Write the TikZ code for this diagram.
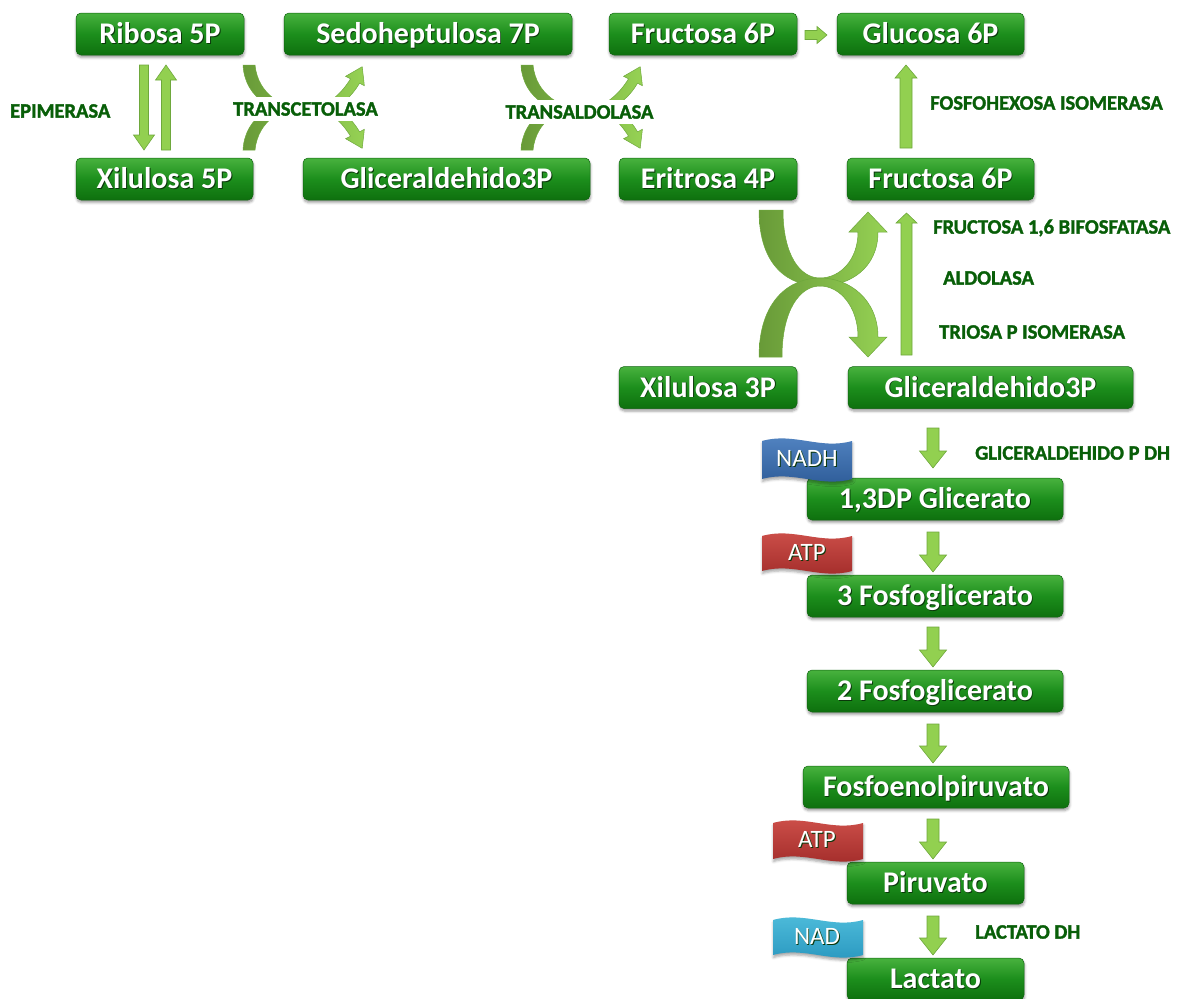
\documentclass[tikz,border=0pt]{standalone}
\usepackage{fontspec}
\newfontfamily\carl{Carlito}
\newfontfamily\enzfam{Carlito}[BoldFeatures={FakeBold=1.6}]
\usetikzlibrary{calc,shadows.blur}

\definecolor{boxtop}{RGB}{72,178,62}
\definecolor{boxmid}{RGB}{28,142,28}
\definecolor{boxbot}{RGB}{14,112,14}
\definecolor{boxedge}{RGB}{16,100,16}
\definecolor{txtshadow}{RGB}{10,55,10}
\definecolor{enz}{RGB}{8,94,8}
\definecolor{arrfill}{RGB}{146,208,80}
\definecolor{arredge}{RGB}{110,168,60}
\definecolor{curvedark}{RGB}{104,154,56}
\definecolor{curvelight}{RGB}{150,210,84}
\definecolor{bluetop}{RGB}{84,134,196}
\definecolor{bluebot}{RGB}{44,90,150}
\definecolor{redtop}{RGB}{208,82,76}
\definecolor{redbot}{RGB}{160,42,40}
\definecolor{cyantop}{RGB}{80,190,220}
\definecolor{cyanbot}{RGB}{40,150,190}

\newcommand{\boxfont}{\carl\bfseries\fontsize{30}{32}\selectfont}
\newcommand{\enzfont}{\enzfam\bfseries\fontsize{20.5}{22}\selectfont}
\newcommand{\badgefont}{\carl\fontsize{25}{27}\selectfont}
% white label text with a dark drop shadow
\newcommand{\sh}[1]{\rlap{\kern0.9pt\raisebox{-0.9pt}{\textcolor{txtshadow}{#1}}}#1}

\tikzset{
  box/.style={rectangle, rounded corners=5pt, minimum height=42pt, inner sep=0pt,
    text height=19pt, text depth=0pt,
    top color=boxtop, bottom color=boxbot, middle color=boxmid,
    draw=boxedge, line width=0.5pt, text=white, font=\boxfont,
    blur shadow={shadow xshift=0.5pt, shadow yshift=-2.5pt, shadow blur radius=2.5pt, shadow opacity=40}},
  enzyme/.style={font=\enzfont, text=enz, inner sep=0pt},
  enzymebg/.style={enzyme, fill=white, inner xsep=1pt, inner ysep=5pt},
  badgetxt/.style={font=\badgefont, text=white, inner sep=0pt},
  blockarr/.style={fill=arrfill, draw=arredge, line width=0.6pt, line join=miter},
  curvearr/.style={left color=curvedark, right color=curvelight, draw=arredge, line width=0.5pt},
  badgeshadow/.style={blur shadow={shadow xshift=0.5pt, shadow yshift=-2.5pt, shadow blur radius=2.5pt, shadow opacity=35}}
}

% straight block arrow from #2 to #3: shaft half width #4, head half width #5, head length #6
\newcommand{\blockarrow}[6][]{%
  \path ($(#3)!#6!(#2)$) coordinate (bah);
  \draw[blockarr,#1] ($(#2)!#4!90:(#3)$) -- ($(bah)!#4!90:(#3)$) -- ($(bah)!#5!90:(#3)$)
    -- (#3) -- ($(bah)!#5!-90:(#3)$) -- ($(bah)!#4!-90:(#3)$) -- ($(#2)!#4!-90:(#3)$) -- cycle;}

% wavy flag: #1 x, #2 y, #3 width, #4 height, #5 top colour, #6 bottom colour
\newcommand{\wavebadge}[6]{%
  \path[top color=#5, bottom color=#6, badgeshadow]
    (#1,{#2+3}) .. controls ({#1+0.35*#3},{#2-6}) and ({#1+0.65*#3},{#2+12}) .. ({#1+#3},{#2+3})
    -- ({#1+#3},{#2+#4-3}) .. controls ({#1+0.65*#3},{#2+#4+6}) and ({#1+0.35*#3},{#2+#4-12}) .. (#1,{#2+#4-3})
    -- cycle;}

% crossing pair of curved arrows (U-shaped and arch-shaped)
\newcommand{\smallcross}{%
  \path[curvearr] (243,65) .. controls (245,100) and (276,114) .. (306,114)
    .. controls (332,114) and (350,100) .. (359.5,83.2) -- (364.4,85.7) -- (362.2,66.7)
    -- (345.6,76.3) -- (350.5,78.8) .. controls (342,93) and (326,109) .. (306,109)
    .. controls (284,109) and (258,95) .. (255,65) -- cycle;
  \path[curvearr] (243,150) .. controls (245,115) and (276,101) .. (306,101)
    .. controls (332,101) and (350,115) .. (359.5,131.8) -- (364.4,129.3) -- (362.2,148.3)
    -- (345.6,138.7) -- (350.5,136.2) .. controls (342,122) and (326,106) .. (306,106)
    .. controls (284,106) and (258,120) .. (255,150) -- cycle;}

\begin{document}
\begin{tikzpicture}[x=1pt,y=-1pt]
\useasboundingbox (0,0) rectangle (1184,999);

% ---------- pentose phosphate side ----------
\node[box, minimum width=168pt] (rib)  at (160,34)    {\sh{Ribosa 5P}};
\node[box, minimum width=288pt] (sed)  at (428,34)    {\sh{Sedoheptulosa 7P}};
\node[box, minimum width=188pt] (fru1) at (703,34)    {\sh{Fructosa 6P}};
\node[box, minimum width=187pt] (glu)  at (930.5,34)  {\sh{Glucosa 6P}};
\node[box, minimum width=177pt] (xil5) at (164.5,179) {\sh{Xilulosa 5P}};
\node[box, minimum width=287pt] (gap1) at (446.5,179) {\sh{Gliceraldehido3P}};
\node[box, minimum width=178pt] (eri)  at (708,179)   {\sh{Eritrosa 4P}};
\node[box, minimum width=187pt] (fru2) at (940.5,179) {\sh{Fructosa 6P}};
\node[box, minimum width=178pt] (xil3) at (708,387.5)  {\sh{Xilulosa 3P}};
\node[box, minimum width=285pt] (gap2) at (990.5,387.5) {\sh{Gliceraldehido3P}};

% ---------- glycolysis column ----------
\node[box, minimum width=256pt] (dpg) at (935,499)   {\sh{1,3DP Glicerato}};
\node[box, minimum width=256pt] (pg3) at (935,596)   {\sh{3 Fosfoglicerato}};
\node[box, minimum width=256pt] (pg2) at (935,691)   {\sh{2 Fosfoglicerato}};
\node[box, minimum width=266pt] (pep) at (936,787)   {\sh{Fosfoenolpiruvato}};
\node[box, minimum width=177pt] (pir) at (935.5,883) {\sh{Piruvato}};
\node[box, minimum width=177pt] (lac) at (935.5,979) {\sh{Lactato}};

% ---------- epimerase pair ----------
\coordinate (ep1a) at (144,65);  \coordinate (ep1b) at (144,150);
\coordinate (ep2a) at (166,150); \coordinate (ep2b) at (166,65);
\blockarrow{ep1a}{ep1b}{4.5pt}{10.5pt}{15pt}
\blockarrow{ep2a}{ep2b}{4.5pt}{10.5pt}{15pt}
\node[enzyme, anchor=west] (epi) at (10,111) {EPIMERASA};

% ---------- transketolase / transaldolase ----------
\smallcross
\node[enzymebg] (tcet) at (305.5,109) {TRANSCETOLASA};
\begin{scope}[xshift=278pt]
  \smallcross
\end{scope}
\node[enzymebg] (tald) at (579.5,112) {TRANSALDOLASA};

% ---------- fructose 6P -> glucose 6P ----------
\coordinate (fg1) at (805,35); \coordinate (fg2) at (827,35);
\blockarrow{fg1}{fg2}{4.5pt}{8.5pt}{10pt}
\coordinate (iso1) at (906,148); \coordinate (iso2) at (906,65);
\blockarrow{iso1}{iso2}{6pt}{11pt}{13pt}
\node[enzyme, anchor=west] (fhi) at (930,103) {FOSFOHEXOSA ISOMERASA};

% ---------- large crossing arrows ----------
\path[curvearr] (759,210) .. controls (759,268) and (790,286) .. (820,286)
  .. controls (850,286) and (878,268) .. (878,232) -- (887,232) -- (868,212)
  -- (849,232) -- (858,232) .. controls (858,260) and (840,278) .. (820,278)
  .. controls (800,278) and (783,255) .. (783,210) -- cycle;
\path[curvearr] (759,357) .. controls (759,300) and (790,278) .. (820,278)
  .. controls (850,278) and (878,300) .. (878,337) -- (887,337) -- (868,357)
  -- (849,337) -- (858,337) .. controls (858,307) and (840,286) .. (820,286)
  .. controls (800,286) and (782,310) .. (782,357) -- cycle;

\coordinate (gf1) at (906.5,355); \coordinate (gf2) at (906.5,213);
\blockarrow{gf1}{gf2}{5.5pt}{10.5pt}{10pt}
\node[enzyme, anchor=west] (fbp) at (933,228) {FRUCTOSA 1,6 BIFOSFATASA};
\node[enzyme, anchor=west] (ald) at (943,278) {ALDOLASA};
\node[enzyme, anchor=west] (tpi) at (939,332) {TRIOSA P ISOMERASA};

% ---------- glycolysis steps ----------
\coordinate (s1a) at (933,428); \coordinate (s1b) at (933,468);
\coordinate (s2a) at (933,532); \coordinate (s2b) at (933,572);
\coordinate (s3a) at (933,627); \coordinate (s3b) at (933,667);
\coordinate (s4a) at (933,724); \coordinate (s4b) at (933,763);
\coordinate (s5a) at (933,819); \coordinate (s5b) at (933,859);
\coordinate (s6a) at (933,916); \coordinate (s6b) at (933,955);
\foreach \s in {1,...,6} {\blockarrow{s\s a}{s\s b}{6pt}{13.5pt}{17pt}}

\node[enzyme, anchor=west] (gapdh) at (975,453) {GLICERALDEHIDO P DH};
\node[enzyme, anchor=west] (ldh)   at (975,932) {LACTATO DH};

% ---------- cofactor flags ----------
\wavebadge{762}{438}{90}{44}{bluetop}{bluebot}
\node[badgetxt] (nadh) at (807,459) {\sh{NADH}};
\wavebadge{762}{533}{90}{41}{redtop}{redbot}
\node[badgetxt] (atp1) at (807,553) {\sh{ATP}};
\wavebadge{773}{820}{90}{42}{redtop}{redbot}
\node[badgetxt] (atp2) at (817,840) {\sh{ATP}};
\wavebadge{773}{917}{90}{41}{cyantop}{cyanbot}
\node[badgetxt] (nad) at (817,937) {\sh{NAD}};
\end{tikzpicture}
\end{document}
